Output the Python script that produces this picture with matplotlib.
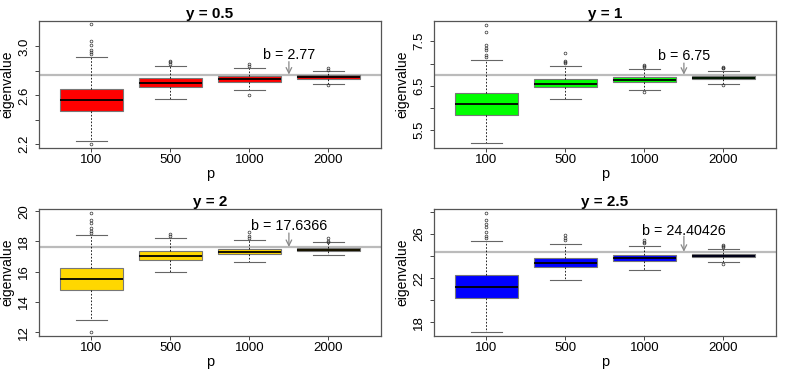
import numpy as np
import matplotlib.pyplot as plt

plt.rcParams['font.family'] = ['Liberation Sans', 'DejaVu Sans']

p_labels = ['100', '500', '1000', '2000']
titles = ['y = 0.5', 'y = 1', 'y = 2', 'y = 2.5']
colors = ['#FF0000', '#00FF00', '#FFD700', '#0000FF']
b_vals = [2.77, 6.75, 17.6366, 24.40426]
b_text = ['b = 2.77', 'b = 6.75', 'b = 17.6366', 'b = 24.40426']

# box stats per panel: q1, median, q3, lower whisker, upper whisker, outliers
q1 = [[2.475, 2.671, 2.712, 2.736],
      [5.833, 6.462, 6.575, 6.642],
      [14.76, 16.79, 17.14, 17.36],
      [20.22, 23.02, 23.57, 23.90]]
med = [[2.565, 2.704, 2.731, 2.753],
       [6.08, 6.545, 6.628, 6.68],
       [15.53, 17.05, 17.32, 17.45],
       [21.24, 23.41, 23.81, 24.05]]
q3 = [[2.651, 2.744, 2.755, 2.766],
      [6.336, 6.65, 6.695, 6.718],
      [16.24, 17.38, 17.52, 17.56],
      [22.27, 23.86, 24.08, 24.23]]
whis_lo = [[2.227, 2.573, 2.646, 2.695],
           [5.203, 6.208, 6.403, 6.53],
           [12.77, 15.95, 16.64, 17.08],
           [17.17, 21.88, 22.75, 23.45]]
whis_hi = [[2.916, 2.842, 2.823, 2.802],
           [7.077, 6.942, 6.867, 6.837],
           [18.42, 18.25, 18.07, 17.94],
           [25.40, 25.10, 24.90, 24.68]]
outliers = [
    [[2.20, 2.94, 2.953, 2.97, 3.014, 3.046, 3.18], [2.86, 2.87, 2.878], [2.84, 2.853, 2.606], [2.81, 2.82, 2.687]],
    [[7.145, 7.19, 7.3, 7.347, 7.406, 7.707, 7.87], [7.01, 7.03, 7.055, 7.235], [6.92, 6.94, 6.965, 6.365], [6.89, 6.91, 6.927, 6.507]],
    [[12.0, 18.55, 18.7, 18.9, 19.24, 19.42, 19.88], [18.38, 18.47], [18.22, 18.38, 18.6], [17.95, 18.0, 18.23]],
    [[25.65, 25.86, 26.2, 26.6, 26.94, 27.28, 27.9], [25.47, 25.68, 25.9], [25.22, 25.3, 25.43], [24.85, 24.95, 25.01, 23.32]],
]
ylims = [(2.167, 3.21), (5.095, 7.963), (11.72, 20.17), (16.75, 28.3)]
yticks = [[2.2, 2.4, 2.6, 2.8, 3.0], [5.5, 6.0, 6.5, 7.0, 7.5], [12, 14, 16, 18, 20], [18, 20, 22, 24, 26, 28]]
ylabels = [['2.2', '', '2.6', '', '3.0'], ['5.5', '', '6.5', '', '7.5'],
           ['12', '14', '16', '18', '20'], ['18', '', '22', '', '26', '']]
text_y = [2.93, 7.16, 19.04, 26.25]
arrow_top = [2.875, 7.01, 18.56, 25.8]

fig = plt.figure(figsize=(7.9, 3.76), dpi=100)
lefts = [0.0497, 0.5497, 0.0497, 0.5497]
bottoms = [0.6056, 0.6056, 0.1056, 0.1056]

for k in range(4):
    ax = fig.add_axes([lefts[k], bottoms[k], 0.432, 0.3394])
    stats = []
    for i in range(4):
        stats.append(dict(med=med[k][i], q1=q1[k][i], q3=q3[k][i],
                          whislo=whis_lo[k][i], whishi=whis_hi[k][i],
                          fliers=outliers[k][i]))
    bp = ax.bxp(stats, positions=[1, 2, 3, 4], widths=0.8, patch_artist=True,
                boxprops=dict(edgecolor='#777777', linewidth=0.8),
                medianprops=dict(color='black', linewidth=1.3),
                whiskerprops=dict(color='black', linewidth=0.6, linestyle=(0, (2, 2))),
                capprops=dict(color='#666666', linewidth=0.8),
                flierprops=dict(marker='o', markersize=2.0, markerfacecolor='none',
                                markeredgecolor='#333333', markeredgewidth=0.5),
                capwidths=0.4)
    for patch in bp['boxes']:
        patch.set_facecolor(colors[k])
    ax.axhline(b_vals[k], color='#BBBBBB', linewidth=1.6, zorder=0.5)
    ax.annotate('', xy=(3.5, b_vals[k]), xytext=(3.5, arrow_top[k]),
                arrowprops=dict(arrowstyle='->', color='#888888', lw=0.9,
                                shrinkA=0, shrinkB=0))
    ax.text(3.5, text_y[k], b_text[k], ha='center', va='center', fontsize=10.3)

    ax.set_xlim(0.34, 4.66)
    ax.set_ylim(*ylims[k])
    ax.set_xticks([1, 2, 3, 4])
    ax.set_xticklabels(p_labels, fontsize=9.5)
    ax.set_yticks(yticks[k])
    ax.set_yticklabels(ylabels[k], fontsize=9.5, rotation=90, va='center')
    ax.tick_params(length=3, width=0.7, color='#444444')
    ax.tick_params(axis='x', pad=1)
    ax.tick_params(axis='y', pad=3.5)
    for s in ax.spines.values():
        s.set_color('#555555')
        s.set_linewidth(0.9)
    ax.set_title(titles[k], fontsize=11, fontweight='bold', pad=1.5)
    ax.set_xlabel('p', fontsize=10.5)
    ax.xaxis.set_label_coords(0.5, -0.15)
    ax.set_ylabel('eigenvalue', fontsize=10)
    ax.yaxis.set_label_coords(-0.093, 0.5)
    ax.yaxis.label.set_verticalalignment('center')

fig.savefig('out.png', dpi=100)
